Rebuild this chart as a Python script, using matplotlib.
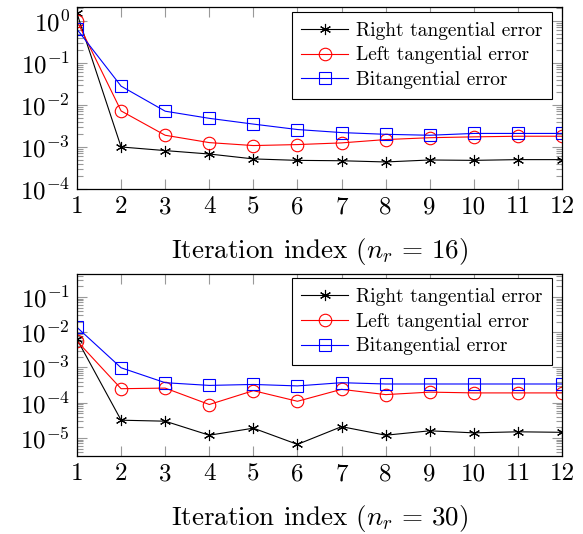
import math
import matplotlib
matplotlib.use("Agg")
import matplotlib.pyplot as plt
from matplotlib.ticker import FixedLocator, LogLocator, FuncFormatter, NullFormatter

plt.rcParams['font.family'] = ['cmr10', 'DejaVu Serif']
plt.rcParams['mathtext.fontset'] = 'cm'
plt.rcParams['axes.unicode_minus'] = False

iters = list(range(1, 13))

# Panel 1 (n_r = 16)
right16 = [1.5, 1.0e-3, 8.2e-4, 6.8e-4, 5.2e-4, 4.8e-4, 4.7e-4, 4.4e-4, 4.9e-4, 4.8e-4, 5.0e-4, 5.0e-4]
left16 = [1.0, 7.2e-3, 1.9e-3, 1.27e-3, 1.08e-3, 1.14e-3, 1.25e-3, 1.5e-3, 1.66e-3, 1.74e-3, 1.8e-3, 1.8e-3]
bi16 = [0.63, 2.8e-2, 7.1e-3, 4.8e-3, 3.5e-3, 2.6e-3, 2.2e-3, 2.0e-3, 1.9e-3, 2.1e-3, 2.1e-3, 2.1e-3]

# Panel 2 (n_r = 30)
right30 = [6.3e-3, 3.2e-5, 3.0e-5, 1.2e-5, 1.9e-5, 6.6e-6, 2.1e-5, 1.2e-5, 1.6e-5, 1.4e-5, 1.5e-5, 1.45e-5]
left30 = [5.6e-3, 2.5e-4, 2.6e-4, 8.9e-5, 2.2e-4, 1.1e-4, 2.4e-4, 1.7e-4, 2.0e-4, 1.9e-4, 1.9e-4, 1.9e-4]
bi30 = [1.37e-2, 9.8e-4, 3.7e-4, 3.1e-4, 3.3e-4, 3.0e-4, 3.7e-4, 3.4e-4, 3.4e-4, 3.4e-4, 3.4e-4, 3.4e-4]

labels = ['Right tangential error', 'Left tangential error', 'Bitangential error']
xlabels = [r'Iteration index ($n_r \,=\, 16$)', r'Iteration index ($n_r \,=\, 30$)']

fig = plt.figure(figsize=(5.83, 5.34), dpi=100)
W, H = 583, 534
def rect(x0, y0, x1, y1):
    return [x0 / W, 1 - y1 / H, (x1 - x0) / W, (y1 - y0) / H]

ax1 = fig.add_axes(rect(77, 7, 562, 189))
ax2 = fig.add_axes(rect(77, 274, 562, 456))

panels = [
    (ax1, right16, left16, bi16, (1e-4, 10 ** 0.33), [1e-4, 1e-3, 1e-2, 1e-1, 1e0], xlabels[0], (0.979, 0.973)),
    (ax2, right30, left30, bi30, (10 ** -5.51, 10 ** -0.35), [1e-5, 1e-4, 1e-3, 1e-2, 1e-1], xlabels[1], (0.979, 0.978)),
]

fmt = FuncFormatter(lambda v, p: r'$10^{%d}$' % round(math.log10(v)))

for ax, r, l, b, ylim, yt, xl, anchor in panels:
    ax.plot(iters, r, color='black', lw=0.8, marker=(6, 2, 0), ms=8, mew=0.8, label=labels[0])
    ax.plot(iters, l, color='red', lw=0.8, marker='o', ms=9, mfc='none', mew=0.8, label=labels[1])
    ax.plot(iters, b, color='blue', lw=0.8, marker='s', ms=8, mfc='none', mew=0.8, label=labels[2])
    ax.set_yscale('log')
    ax.set_xlim(1, 12)
    ax.set_ylim(*ylim)
    ax.set_xticks(iters)
    ax.set_xticklabels([str(i) for i in iters])
    ax.yaxis.set_major_locator(FixedLocator(yt))
    ax.yaxis.set_major_formatter(fmt)
    ax.yaxis.set_minor_locator(LogLocator(base=10, subs=range(2, 10), numticks=20))
    ax.yaxis.set_minor_formatter(NullFormatter())
    ax.tick_params(which='both', direction='in', top=True, right=True, color='#999999', width=0.8)
    ax.tick_params(which='major', length=7, labelsize=18, pad=5)
    ax.tick_params(which='minor', length=4.5)
    for s in ax.spines.values():
        s.set_linewidth(0.9)
    ax.set_xlabel(xl, fontsize=19.5, labelpad=13)
    leg = ax.legend(loc='upper right', bbox_to_anchor=anchor, bbox_transform=ax.transAxes,
                    fontsize=14, frameon=True, fancybox=False, edgecolor='black',
                    framealpha=1, borderpad=0.5, handlelength=2.4, handletextpad=0.4,
                    labelspacing=0.35, borderaxespad=0.0)
    leg.get_frame().set_linewidth(0.8)

fig.savefig('out.png', dpi=100)
